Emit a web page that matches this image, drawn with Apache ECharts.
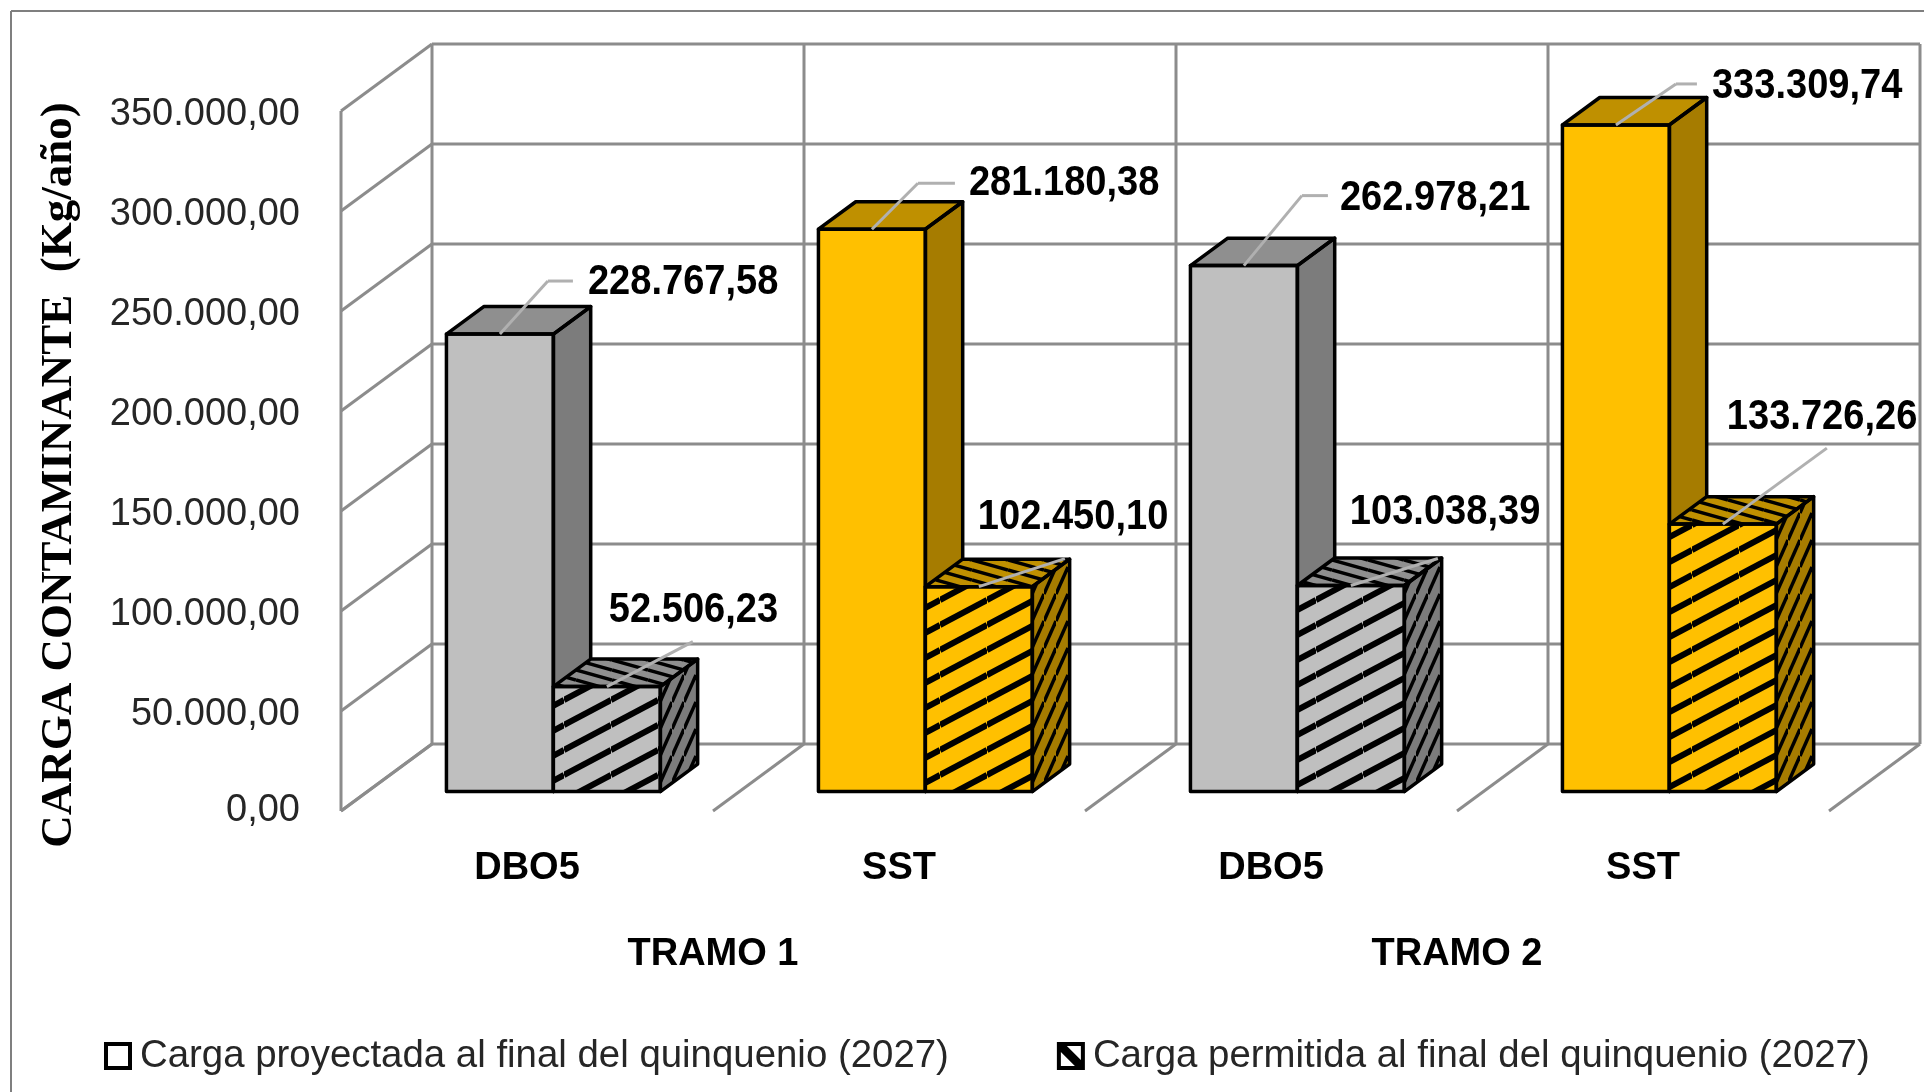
<!DOCTYPE html>
<html>
<head>
<meta charset="utf-8">
<title>Carga contaminante</title>
<script src="https://cdn.jsdelivr.net/npm/echarts@6/dist/echarts.min.js"></script>
<style>
  html,body{margin:0;padding:0;background:#fff;}
  #chart{width:1924px;height:1092px;}
</style>
</head>
<body>
<div id="chart"></div>
<script>
// datos
var tramos = ['TRAMO 1', 'TRAMO 2'];
var contaminantes = ['DBO5', 'SST', 'DBO5', 'SST'];
var cargaProyectada = [228767.58, 281180.38, 262978.21, 333309.74];
var cargaPermitida = [52506.23, 102450.10, 103038.39, 133726.26];
var yTicks = [0, 50000, 100000, 150000, 200000, 250000, 300000, 350000];

var nombreProyectada = 'Carga proyectada al final del quinquenio (2027)';
var nombrePermitida = 'Carga permitida al final del quinquenio (2027)';

// colores por categoria
var colorFrente = ['#BFBFBF', '#FFC000', '#BFBFBF', '#FFC000'];
var colorTecho = ['#8F8F8F', '#BF9000', '#8F8F8F', '#BF9000'];
var colorLado = ['#7C7C7C', '#A67C00', '#7C7C7C', '#A67C00'];
var colorGrid = '#8C8C8C';

// perspectiva: desplazamiento de la pared del fondo respecto al plano frontal
var DX = 91, DY = 67;
var D1 = 0.29, D2 = 0.70;   // profundidad de las barras
var ANCHO = 0.2875;         // ancho de barra / ancho de banda

// desplazamiento de las etiquetas respecto al centro de la barra
// [codo x, codo y, fin x, fin y, texto x, texto y]
var posProyectada = [
  [48, -53, 73, -53, 88, -52],
  [46, -46, 83, -46, 97, -46],
  [58, -70, 84, -70, 96, -67],
  [60, -41, 81, -41, 96, -39]
];
var posPermitida = [
  [86, -45, 86, -45, 2, -76],
  [86, -28, 86, -28, -1, -70],
  [87, -27, 87, -27, -1, -73],
  [104, -76, 104, -76, 4, -107]
];

function formato(v) {
  return v.toFixed(2).replace('.', ',').replace(/\B(?=(\d{3})+,)/g, '.');
}

function trama(w, h, grosor, baja) {
  var c = document.createElement('canvas');
  c.width = w;
  c.height = h;
  var ctx = c.getContext('2d');
  ctx.strokeStyle = '#000';
  ctx.lineWidth = grosor;
  for (var k = -1; k <= 1; k++) {
    ctx.beginPath();
    if (baja) {
      ctx.moveTo(0, k * h);
      ctx.lineTo(w, h + k * h);
    } else {
      ctx.moveTo(0, h + k * h);
      ctx.lineTo(w, k * h);
    }
    ctx.stroke();
  }
  return {image: c, repeat: 'repeat'};
}
var tramaFrente = trama(47, 25, 6, false);
var tramaLado = trama(12, 27, 3.5, false);
var tramaTecho = trama(36, 10, 3.5, true);

function poligono(puntos, fill, borde) {
  return {
    type: 'polygon',
    shape: {points: puntos},
    style: {fill: fill, stroke: borde ? '#000' : null, lineWidth: 3.5, lineJoin: 'round'}
  };
}

function linea(x1, y1, x2, y2, color, ancho) {
  return {
    type: 'line',
    shape: {x1: x1, y1: y1, x2: x2, y2: y2},
    style: {stroke: color, lineWidth: ancho, fill: null}
  };
}

function barra3d(lado, rayada) {
  return function (params, api) {
    var i = api.value(0);
    var base = api.coord([i, 0]);
    var tope = api.coord([i, api.value(1)]);
    var w = api.size([1, 0])[0] * ANCHO;
    var x0 = base[0] + lado * w + D1 * DX;
    var x1 = x0 + w;
    var y0 = tope[1] - D1 * DY;
    var y1 = base[1] - D1 * DY;
    var bx = (D2 - D1) * DX, by = (D2 - D1) * DY;
    var frente = [[x0, y0], [x1, y0], [x1, y1], [x0, y1]];
    var techo = [[x0, y0], [x0 + bx, y0 - by], [x1 + bx, y0 - by], [x1, y0]];
    var costado = [[x1, y0], [x1 + bx, y0 - by], [x1 + bx, y1 - by], [x1, y1]];
    var hijos = [
      poligono(techo, colorTecho[i], false),
      poligono(costado, colorLado[i], false),
      poligono(frente, colorFrente[i], false)
    ];
    if (rayada) {
      hijos.push(poligono(techo, tramaTecho, false));
      hijos.push(poligono(costado, tramaLado, false));
      hijos.push(poligono(frente, tramaFrente, false));
    }
    hijos.push(poligono(techo, 'transparent', true));
    hijos.push(poligono(costado, 'transparent', true));
    hijos.push(poligono(frente, 'transparent', true));
    return {type: 'group', children: hijos};
  };
}

function etiquetas(lado, pos) {
  return function (params, api) {
    var i = api.value(0);
    var base = api.coord([i, 0]);
    var tope = api.coord([i, api.value(1)]);
    var w = api.size([1, 0])[0] * ANCHO;
    var cx = base[0] + (lado + 0.5) * w + D1 * DX;
    var cy = tope[1] - D1 * DY;
    var p = pos[i];
    return {
      type: 'group',
      children: [
        linea(cx, cy, cx + p[0], cy + p[1], '#B0B0B0', 3),
        linea(cx + p[0], cy + p[1], cx + p[2], cy + p[3], '#B0B0B0', 3),
        {
          type: 'text',
          x: cx + p[4],
          y: cy + p[5],
          scaleX: 0.885,
          style: {
            x: 0,
            y: 0,
            text: formato(api.value(1)),
            fill: '#000',
            font: 'bold 43px "Liberation Sans"',
            textAlign: 'left',
            textVerticalAlign: 'middle'
          }
        }
      ]
    };
  };
}

function datos(valores) {
  return valores.map(function (v, i) { return [i, v]; });
}

var chart = echarts.init(document.getElementById('chart'));
chart.setOption({
  animation: false,
  backgroundColor: '#fff',
  grid: {left: 341, top: 111, width: 1488, height: 700},
  graphic: [
    {type: 'line', shape: {x1: 11, y1: 11, x2: 1924, y2: 11}, style: {stroke: '#7F7F7F', lineWidth: 2}},
    {type: 'line', shape: {x1: 11, y1: 11, x2: 11, y2: 1092}, style: {stroke: '#7F7F7F', lineWidth: 2}}
  ],
  legend: {
    left: 104,
    top: 1037,
    padding: 0,
    itemWidth: 28,
    itemHeight: 28,
    itemGap: 108,
    textStyle: {
      fontFamily: '"Liberation Sans"',
      fontSize: 38.4,
      color: '#262626',
      padding: [0, 0, 0, 3]
    },
    data: [
      {name: nombreProyectada, icon: 'path://M0 0H28V28H0Z M4 4V24H24V4Z', itemStyle: {color: '#000'}},
      {name: nombrePermitida, icon: 'path://M0 0H28V28H0Z M4 10V24H18Z M10 4L24 18V4Z', itemStyle: {color: '#000'}}
    ]
  },
  xAxis: [
    {
      type: 'category',
      data: contaminantes,
      axisLine: {show: false},
      axisTick: {show: false},
      splitLine: {show: false},
      axisLabel: {
        margin: 39,
        fontFamily: '"Liberation Sans"',
        fontWeight: 'bold',
        fontSize: 38,
        color: '#000'
      }
    },
    {
      type: 'category',
      position: 'bottom',
      offset: 125,
      data: tramos,
      axisLine: {show: false},
      axisTick: {show: false},
      splitLine: {show: false},
      axisLabel: {
        margin: 0,
        fontFamily: '"Liberation Sans"',
        fontWeight: 'bold',
        fontSize: 38,
        color: '#000'
      }
    }
  ],
  yAxis: {
    type: 'value',
    min: 0,
    max: yTicks[yTicks.length - 1],
    interval: 50000,
    axisLine: {show: false},
    axisTick: {show: false},
    splitLine: {show: false},
    name: 'CARGA CONTAMINANTE  (Kg/año)',
    nameLocation: 'middle',
    nameGap: 259,
    nameRotate: 90,
    nameTextStyle: {
      fontFamily: '"Liberation Serif"',
      fontWeight: 'bold',
      fontSize: 45,
      color: '#000',
      padding: [0, 28, 0, 0]
    },
    axisLabel: {
      margin: 41,
      fontFamily: '"Liberation Sans"',
      fontSize: 38,
      color: '#262626',
      // el 0 queda en su sitio, los demas bajan un poco
      formatter: function (v) {
        return v === 0 ? formato(v) : '{n|' + formato(v) + '}';
      },
      rich: {
        n: {
          fontFamily: '"Liberation Sans"',
          fontSize: 38,
          color: '#262626',
          padding: [8, 0, 0, 0]
        }
      }
    }
  },
  series: [
    {
      // lineas horizontales de pared lateral y fondo
      type: 'custom',
      silent: true,
      data: yTicks.map(function (t) { return [0, t]; }),
      renderItem: function (params, api) {
        var c = api.coord([0, api.value(1)]);
        var banda = api.size([1, 0])[0];
        var x = c[0] - banda / 2;
        var fin = x + banda * contaminantes.length + DX;
        return {
          type: 'group',
          children: [
            linea(x, c[1], x + DX, c[1] - DY, colorGrid, 3),
            linea(x + DX, c[1] - DY, fin, c[1] - DY, colorGrid, 3)
          ]
        };
      }
    },
    {
      // lineas verticales y marcas del piso
      type: 'custom',
      silent: true,
      data: [0, 1, 2, 3, 4].map(function (i) { return [i, 0]; }),
      renderItem: function (params, api) {
        var banda = api.size([1, 0])[0];
        var c0 = api.coord([0, 0]);
        var top = api.coord([0, yTicks[yTicks.length - 1]]);
        var x = c0[0] - banda / 2 + banda * api.value(0);
        var hijos = [
          linea(x, c0[1], x + DX, c0[1] - DY, colorGrid, 3),
          linea(x + DX, c0[1] - DY, x + DX, top[1] - DY, colorGrid, 3)
        ];
        if (api.value(0) === 0) {
          hijos.push(linea(x, c0[1], x, top[1], colorGrid, 3));
        }
        return {type: 'group', children: hijos};
      }
    },
    {
      name: nombreProyectada,
      type: 'custom',
      silent: true,
      data: datos(cargaProyectada),
      renderItem: barra3d(-1, false)
    },
    {
      name: nombrePermitida,
      type: 'custom',
      silent: true,
      data: datos(cargaPermitida),
      renderItem: barra3d(0, true)
    },
    {
      type: 'custom',
      silent: true,
      data: datos(cargaProyectada),
      renderItem: etiquetas(-1, posProyectada)
    },
    {
      type: 'custom',
      silent: true,
      data: datos(cargaPermitida),
      renderItem: etiquetas(0, posPermitida)
    }
  ]
});
</script>
</body>
</html>
